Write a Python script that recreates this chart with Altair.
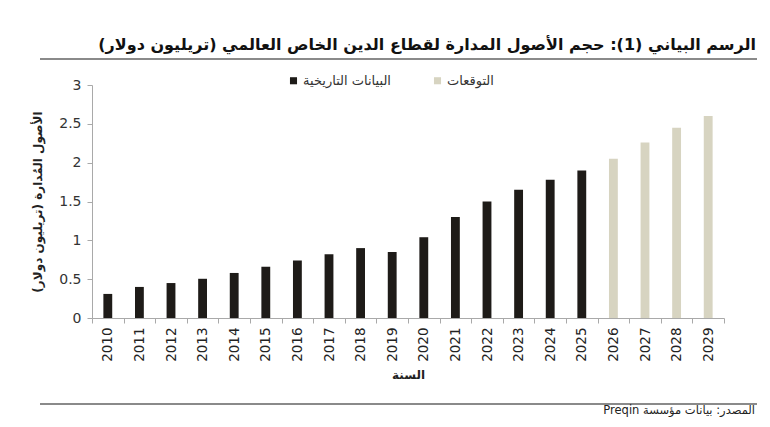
import altair as alt
import pandas as pd

# القيم مقروءة من الرسم الأصلي (تريليون دولار)
YEARS = [str(y) for y in range(2010, 2030)]
AUM = [0.31, 0.40, 0.45, 0.505, 0.58, 0.66, 0.74, 0.82, 0.90, 0.85,
       1.04, 1.30, 1.50, 1.65, 1.78, 1.90, 2.05, 2.26, 2.45, 2.60]
HIST = "البيانات التاريخية"
FCST = "التوقعات"
SERIES = [HIST] * 16 + [FCST] * 4
Y_TICKS = [0, 0.5, 1, 1.5, 2, 2.5, 3]

# RLE ... PDF: اتجاه النص من اليمين إلى اليسار
TITLE = "\u202bالرسم البياني (1): حجم الأصول المدارة لقطاع الدين الخاص العالمي (تريليون دولار)\u202c"
SOURCE = "\u202bالمصدر: بيانات مؤسسة Preqin\u202c"
Y_TITLE = "الأصول المُدارة (تريليون دولار)"
X_TITLE = "السنة"

FONT = "DejaVu Sans"
DARK = "#1e1b18"
BEIGE = "#d7d4c1"
AXIS = "#a9a9a9"
W, H = 632, 233

df = pd.DataFrame({"year": YEARS, "aum": AUM, "series": SERIES})

bars = (
    alt.Chart(df)
    .mark_bar(width=alt.RelativeBandSize(0.28))
    .encode(
        x=alt.X(
            "year:N",
            title=X_TITLE,
            scale=alt.Scale(paddingInner=0, paddingOuter=0),
            axis=alt.Axis(
                labelAngle=-90, labelFontSize=13.5, labelColor="#222", labelPadding=4,
                tickBand="extent", tickSize=5, domainColor=AXIS, tickColor=AXIS,
                titleFontSize=12, titleFontWeight="bold", titlePadding=8, titleColor="#222",
            ),
        ),
        y=alt.Y(
            "aum:Q",
            title=Y_TITLE,
            scale=alt.Scale(domain=[0, 3], nice=False),
            axis=alt.Axis(
                values=Y_TICKS, format="~g", grid=False, labelFontSize=14, labelColor="#333",
                labelPadding=6, tickSize=5, domainColor=AXIS, tickColor=AXIS,
                titleFontSize=12, titleFontWeight="bold", titlePadding=14, titleColor="#222",
            ),
        ),
        color=alt.Color(
            "series:N",
            scale=alt.Scale(domain=[HIST, FCST], range=[DARK, BEIGE]),
            legend=alt.Legend(
                title=None, orient="none", direction="horizontal", legendX=195, legendY=-11,
                symbolType="square", symbolSize=50, symbolStrokeWidth=0, labelFontSize=13,
                labelColor="#333", columnPadding=40, labelOffset=3,
            ),
        ),
    )
)

one = pd.DataFrame({"t": [0]})

title = (
    alt.Chart(pd.DataFrame({"t": [TITLE]}))
    .mark_text(align="right", baseline="alphabetic", fontSize=16, fontWeight="bold", color="#111", font=FONT)
    .encode(text="t:N", x=alt.value(664), y=alt.value(-35))
)
top_rule = (
    alt.Chart(one)
    .mark_rule(color="#8a8a8a", strokeWidth=2)
    .encode(x=alt.value(-52), x2=alt.value(665), y=alt.value(-26))
)
bottom_rule = (
    alt.Chart(one)
    .mark_rule(color="#8a8a8a", strokeWidth=2)
    .encode(x=alt.value(-52), x2=alt.value(665), y=alt.value(319))
)
source = (
    alt.Chart(pd.DataFrame({"t": [SOURCE]}))
    .mark_text(align="right", baseline="middle", fontSize=11.5, color="#222", font=FONT)
    .encode(text="t:N", x=alt.value(663), y=alt.value(326))
)

chart = (
    alt.layer(bars, title, top_rule, bottom_rule, source)
    .properties(
        width=W, height=H,
        autosize=alt.AutoSizeParams(type="none"),
        padding={"left": 84, "top": 77, "right": 38, "bottom": 103},
    )
    .configure(font=FONT)
    .configure_view(stroke=None)
)

chart.save("out.html", embed_options={"renderer": "svg", "actions": False})
